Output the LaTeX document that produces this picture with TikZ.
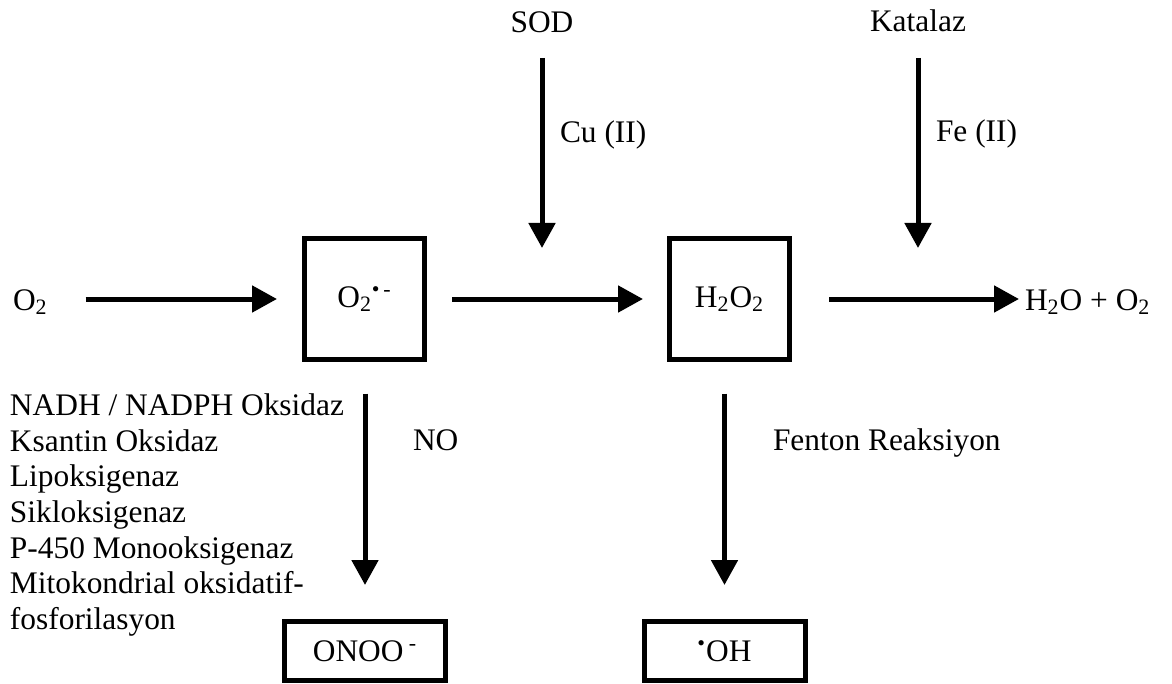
\documentclass[tikz,border=0pt]{standalone}
\usepackage{fontspec}
\setmainfont{Liberation Serif}
\usetikzlibrary{arrows.meta}
\begin{document}
\begin{tikzpicture}[x=0.5pt, y=-0.5pt,
    every node/.style={inner sep=0pt, outer sep=0pt, font=\fontsize{15.7}{17.8}\selectfont},
    box/.style={draw, line width=2.5pt, minimum width=60pt, minimum height=60.5pt},
    smallbox/.style={draw, line width=2.5pt, minimum width=80.5pt, minimum height=29.5pt},
    arr/.style={line width=2.5pt, -{Triangle[length=12.5pt, width=13pt]}}]
    \useasboundingbox (0,0) rectangle (1172,684);
    % main chain
    \node[anchor=base west] (o2) at (13,310) {O\textsubscript{2}};
    \node[box] (sup) at (364.5,299) {O\textsubscript{2}\textsuperscript{•\,-}};
    \node[box] (h2o2) at (729.5,299) {H\textsubscript{2}O\textsubscript{2}};
    \node[anchor=base west] (prod) at (1025,310) {H\textsubscript{2}O + O\textsubscript{2}};
    \node[smallbox] (onoo) at (365,651) {ONOO\,\textsuperscript{-}};
    \node[smallbox] (oh) at (724.5,651) {\textsuperscript{•}OH};
    % enzymes
    \node[anchor=base] (sod) at (542,33) {SOD};
    \node[anchor=base] (kat) at (918,32) {Katalaz};
    \coordinate (cutip) at (542,248);
    \coordinate (fetip) at (918,248);
    \node[anchor=base west] (cu) at (560,143) {Cu (II)};
    \node[anchor=base west] (fe) at (936,142) {Fe (II)};
    \node[anchor=base west] (no) at (413,450) {NO};
    \node[anchor=base west] (fenton) at (773,450) {Fenton Reaksiyon};
    \node[anchor=north west, align=left] (src) at (10,394) {NADH / NADPH Oksidaz\\
        Ksantin Oksidaz\\ Lipoksigenaz\\ Sikloksigenaz\\ P-450 Monooksigenaz\\
        Mitokondrial oksidatif-\\ fosforilasyon};
    % arrows
    \draw[arr, shorten <=19pt, shorten >=13.75pt] (o2.east |- sup.west) -- (sup.west);
    \draw[arr, shorten <=13.75pt, shorten >=13.25pt] (sup.east) -- (h2o2.west);
    \draw[arr, shorten <=19.75pt, shorten >=3pt] (h2o2.east) -- (prod.west |- h2o2.east);
    \draw[arr, shorten <=12.5pt] (sod.base) -- (cutip);
    \draw[arr, shorten <=13pt] (kat.base) -- (fetip);
    \draw[arr, shorten <=17pt, shorten >=18.25pt] (sup.south -| onoo.north) -- (onoo.north);
    \draw[arr, shorten <=17pt, shorten >=18.25pt] (h2o2.south -| oh.north) -- (oh.north);
\end{tikzpicture}
\end{document}
